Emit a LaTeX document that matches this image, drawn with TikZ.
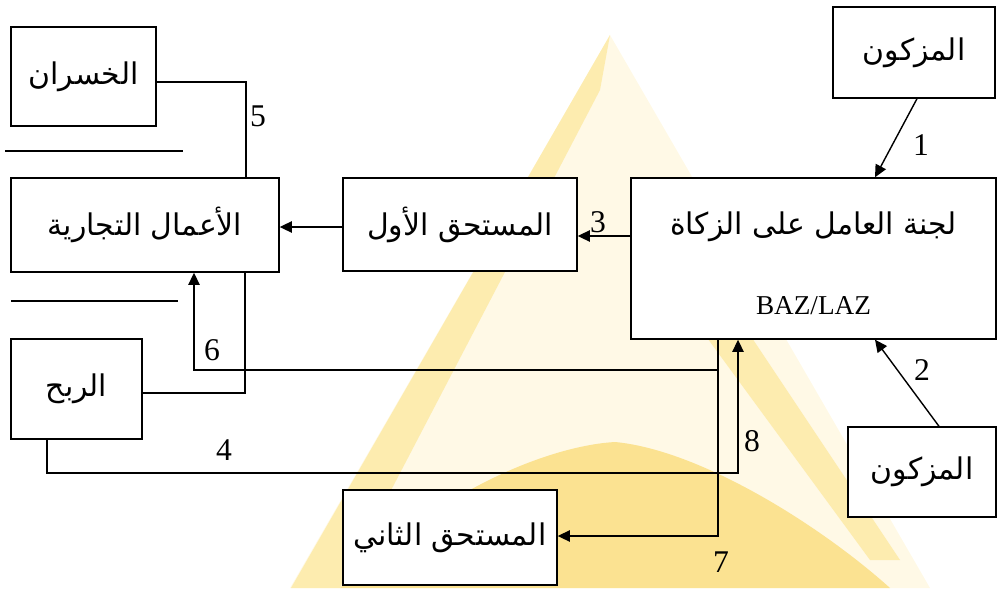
\documentclass[tikz,border=0pt]{standalone}
\usepackage{fontspec}
\setmainfont{Liberation Serif}
\newfontfamily\arabicfont[Script=Arabic]{DejaVu Sans}
\TeXXeTstate=1
\usetikzlibrary{arrows.meta,calc}

\definecolor{wmlight}{RGB}{255,249,230}
\definecolor{wmmid}{RGB}{253,236,175}
\definecolor{wmstrong}{RGB}{251,226,145}

\newcommand{\arabtxt}[1]{{\arabicfont\fontsize{17}{19}\selectfont\beginR #1\endR}}

\tikzset{
  box/.style={draw, line width=0.8pt, fill=white, inner sep=0pt},
  ln/.style={line width=0.8pt},
  arr/.style={line width=0.8pt, -{Triangle[length=7pt,width=6.5pt]}},
  num/.style={font=\fontsize{18}{18}\selectfont, inner sep=0pt},
}

\begin{document}
\begin{tikzpicture}[x=0.02cm,y=-0.02cm]
\useasboundingbox (0,0) rectangle (1000,588);

% watermark
\fill[wmlight] (610,35) -- (930,588) -- (290,588) -- cycle;
\fill[wmmid] (610,35) -- (291,588) -- (340,588) -- (600,90) -- cycle;
\fill[wmmid] (705,335) -- (750,335) -- (900,560) -- (870,560) -- cycle;
\fill[wmstrong] (340,588) .. controls (450,480) and (560,445) .. (615,442)
  .. controls (700,450) and (820,525) .. (890,588) -- cycle;

% boxes
\node[box, minimum width=2.9cm, minimum height=1.98cm] (khusran) at (83.5,76.5) {\arabtxt{الخسران}};
\node[box, minimum width=5.36cm, minimum height=1.88cm] (amal) at (145,225) {\arabtxt{الأعمال التجارية}};
\node[box, minimum width=4.68cm, minimum height=1.86cm] (awwal) at (460,224.5) {\arabtxt{المستحق الأول}};
\node[box, minimum width=7.3cm, minimum height=3.22cm] (lajnah) at (813.5,258.5) {};
\node[inner sep=0pt] (lajnahAr) at ($(lajnah.center)+(0,-32)$) {\arabtxt{لجنة العامل على الزكاة}};
\node[inner sep=0pt, font=\fontsize{15.5}{16}\selectfont] (baz) at ($(lajnah.center)+(0,47)$) {BAZ/LAZ};
\node[box, minimum width=3.24cm, minimum height=1.82cm] (muz1) at (914,52.5) {\arabtxt{المزكون}};
\node[box, minimum width=2.96cm, minimum height=1.8cm] (muz2) at (922,472) {\arabtxt{المزكون}};
\node[box, minimum width=2.62cm, minimum height=2cm] (ribh) at (76.5,389) {\arabtxt{الربح}};
\node[box, minimum width=4.28cm, minimum height=1.9cm] (thani) at (450,537.5) {\arabtxt{المستحق الثاني}};

% separators
\draw[ln] (5,151) -- (183,151);
\draw[ln] (11,301) -- (178,301);

% connectors
\draw[arr] ($(muz1.south)+(3,0)$) -- ($(lajnah.north)+(61.5,0)$);
\draw[arr] ($(muz2.north)+(17,0)$) -- ($(lajnah.south)+(61.5,0)$);
\draw[arr] (lajnah.west |- 0,236) -- (awwal.east |- 0,236);
\draw[arr] (awwal.west |- 0,227) -- (amal.east |- 0,227);
\draw[ln] (khusran.east |- 0,82) -| (amal.north -| 246,0);
\draw[ln] (amal.south -| 245,0) |- (ribh.east |- 0,393);
\draw[arr] (lajnah.south -| 718,0) |- (thani.east |- 0,536);
\coordinate (j6) at (718,370);
\draw[arr] (j6) -| (amal.south -| 194,0);
\draw[arr] (ribh.south -| 47,0) |- (738,473) -- (lajnah.south -| 738,0);

% labels
\node[num] (n1) at (921,145) {1};
\node[num] (n2) at (922,370) {2};
\node[num] (n3) at (598,222) {3};
\node[num] (n4) at (224,450) {4};
\node[num] (n5) at (258,116) {5};
\node[num] (n6) at (212,350) {6};
\node[num] (n7) at (721,562) {7};
\node[num] (n8) at (752,441) {8};
\end{tikzpicture}
\end{document}
